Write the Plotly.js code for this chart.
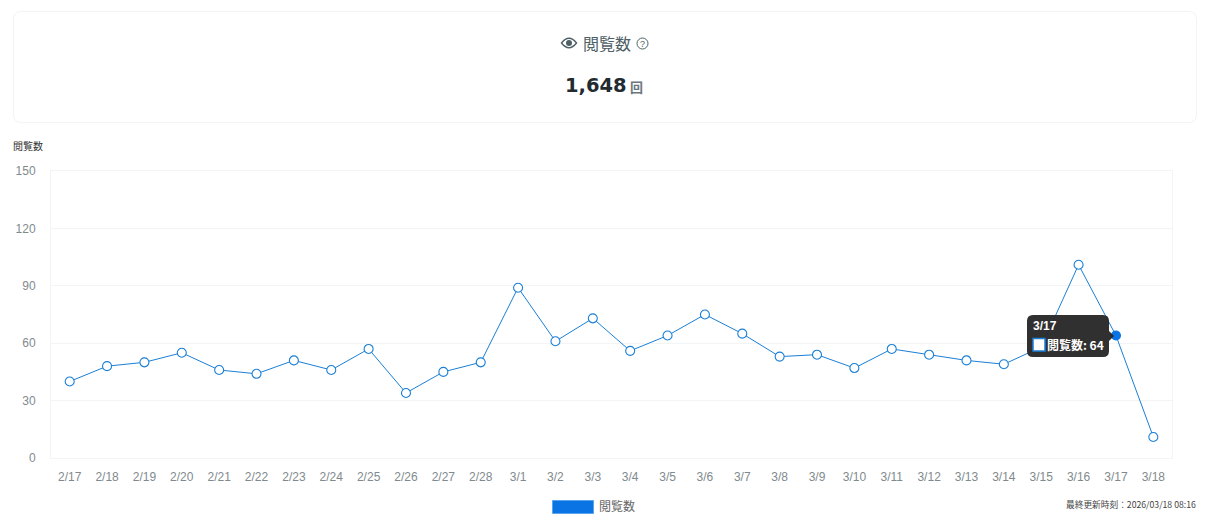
<!DOCTYPE html>
<html><head><meta charset="utf-8">
<script src="https://cdn.plot.ly/plotly-3.0.1.min.js"></script>
<style>html,body{margin:0;padding:0;background:#fff;overflow:hidden}#c{width:1227px;height:521px}</style>
</head><body><div id="c"></div>
<script>
const dates = ['2/17','2/18','2/19','2/20','2/21','2/22','2/23','2/24','2/25','2/26','2/27','2/28','3/1','3/2','3/3','3/4','3/5','3/6','3/7','3/8','3/9','3/10','3/11','3/12','3/13','3/14','3/15','3/16','3/17','3/18'];
const views = [40,48,50,55,46,44,51,46,57,34,45,50,89,61,73,56,64,75,65,53,54,47,57,54,51,49,58,101,64,11];
const activeDate = '3/17';
const yTicks = [0,30,60,90,120,150];
const seriesName = '閲覧数';
const totalLabel = '1,648';
const updated = '最終更新時刻：2026/03/18 08:16';

const W=1227,H=521,L=51,R=1172,T=171,B=458;
const px=x=>(x-L)/(R-L), py=y=>(B-y)/(B-T);
const JP='"Noto Sans CJK JP","Liberation Sans",sans-serif', LAT='"Liberation Sans","Noto Sans CJK JP",sans-serif';
const BLUE='#1b7fd6', SOLID='#0b74e5';
function rr(x0,y0,x1,y1,r){
  const X=px,Y=py;
  return `M${X(x0+r)},${Y(y0)} L${X(x1-r)},${Y(y0)} Q${X(x1)},${Y(y0)} ${X(x1)},${Y(y0+r)} L${X(x1)},${Y(y1-r)} Q${X(x1)},${Y(y1)} ${X(x1-r)},${Y(y1)} L${X(x0+r)},${Y(y1)} Q${X(x0)},${Y(y1)} ${X(x0)},${Y(y1-r)} L${X(x0)},${Y(y0+r)} Q${X(x0)},${Y(y0)} ${X(x0+r)},${Y(y0)} Z`;
}
const paper={xref:'paper',yref:'paper'};
const eye=`M${px(561.5)},${py(43)} Q${px(569)},${py(33.5)} ${px(576.5)},${py(43)} Q${px(569)},${py(52.5)} ${px(561.5)},${py(43)} Z`;
const shapes=[
  {...paper,type:'path',path:rr(13.5,11.5,1196.5,122.5,8),line:{color:'#f1f3f4',width:1},fillcolor:'#fff',layer:'below'},
  {...paper,type:'path',path:eye,line:{color:'#4f5f66',width:1.4},fillcolor:'#fff'},
  {...paper,type:'circle',x0:px(566),x1:px(572),y0:py(46),y1:py(40),line:{width:0},fillcolor:'#4f5f66'},
  {...paper,type:'circle',x0:px(637),x1:px(648),y0:py(49),y1:py(38),line:{color:'#4f5f66',width:1},fillcolor:'#fff'},
  {...paper,type:'rect',x0:px(552.5),x1:px(593.5),y0:py(513.5),y1:py(500.5),line:{color:'#5aa5ee',width:1},fillcolor:SOLID},
  {...paper,type:'path',path:rr(1027,315,1109,357,6),line:{width:0},fillcolor:'rgba(40,40,40,0.96)'},
  {...paper,type:'path',path:`M${px(1109)},${py(331)} L${px(1114)},${py(336)} L${px(1109)},${py(341)} Z`,line:{width:0},fillcolor:'rgba(40,40,40,0.96)'},
  {...paper,type:'rect',x0:px(1033),x1:px(1045),y0:py(351),y1:py(338.5),line:{color:BLUE,width:1.5},fillcolor:'#fff'}
];
const txt=(x,y,text,size,color,anchor,extra)=>({...paper,x:px(x),y:py(y),text,showarrow:false,xanchor:anchor||'left',yanchor:'middle',font:{size,color,family:JP},borderpad:0,...extra});
const annotations=[
  txt(582,43,seriesName,16,'#4f5f66'),
  txt(642.5,43.5,'?',9,'#4f5f66','center',{font:{size:9,color:'#4f5f66',family:LAT}}),
  txt(628,85,`<b>${totalLabel}</b>`,19.5,'#212b30','right',{font:{size:19.5,color:'#212b30',family:'"DejaVu Sans",sans-serif'}}),
  txt(629,87,'<b>回</b>',13,'#6b777c'),
  txt(12,145.5,seriesName,10,'#333'),
  txt(598,505,seriesName,12,'#666'),
  txt(1197,504.5,updated,8.7,'#444','right'),
  txt(1032,325.5,`<b>${activeDate}</b>`,12,'#fff','left',{font:{size:12,color:'#fff',family:LAT}}),
  txt(1046,344,`<b>${seriesName}: ${views[dates.indexOf(activeDate)]}</b>`,12,'#fff')
];
const trace={x:dates,y:views,type:'scatter',mode:'lines+markers',name:seriesName,cliponaxis:false,
  line:{color:BLUE,width:1},
  marker:{size:9,symbol:'circle',
    color:dates.map(d=>d===activeDate?SOLID:'#fff'),
    line:{color:dates.map(d=>d===activeDate?SOLID:BLUE),width:1.1}},
  hoverinfo:'skip'};
Plotly.newPlot('c',[trace],{
  width:W,height:H,margin:{l:L,r:W-R,t:T,b:H-B,pad:0},
  paper_bgcolor:'#fff',plot_bgcolor:'#fff',showlegend:false,
  font:{family:LAT,size:12,color:'#7f8a8e'},
  xaxis:{type:'category',categoryorder:'array',categoryarray:dates,range:[-0.5,dates.length-0.5],
    showgrid:false,showline:true,mirror:true,linecolor:'#f3f4f5',linewidth:1,ticks:'',ticklabelstandoff:8,
    tickfont:{size:12,color:'#7f8a8e',family:LAT},tickangle:0,tickmode:'array',tickvals:dates,ticktext:dates},
  yaxis:{range:[0,150],tickmode:'array',tickvals:yTicks,showgrid:true,gridcolor:'#f3f4f5',gridwidth:1,zeroline:false,
    showline:true,mirror:true,linecolor:'#f3f4f5',linewidth:1,ticks:'',ticklabelstandoff:12,
    tickfont:{size:12,color:'#7f8a8e',family:LAT}},
  shapes,annotations
},{displayModeBar:false,staticPlot:true});
</script></body></html>
